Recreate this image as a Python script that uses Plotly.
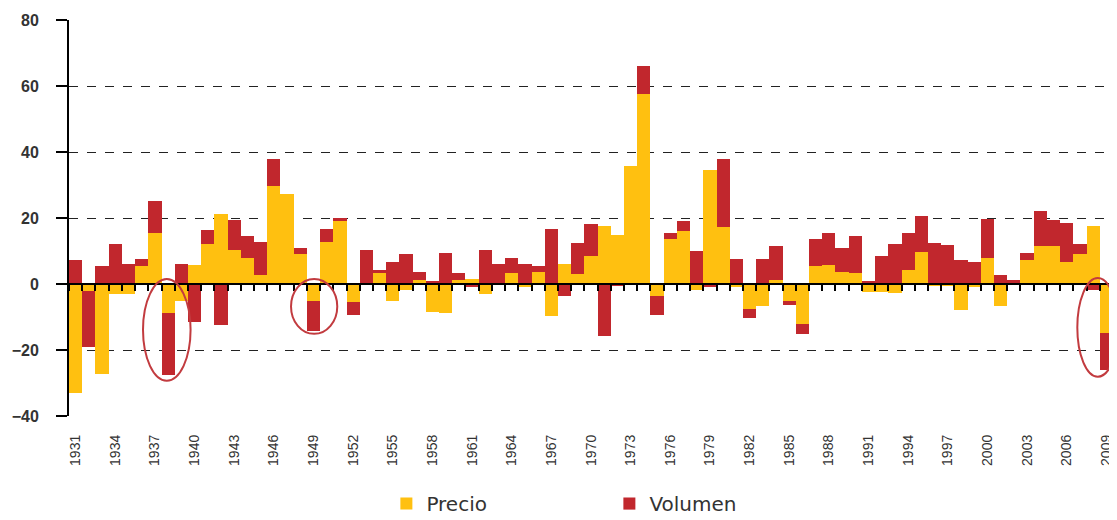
import plotly.graph_objects as go

years = list(range(1931, 2010))
precio = [-33, -2, -27.3, -3.1, -3, 5.4, 15.5, -8.9, -5, 5.9,
          12, 21.3, 10.3, 8, 2.8, 29.6, 27.4, 9, -5, 12.8,
          19, -5.5, 0, 3.2, -5, -1.8, 1.2, -8.5, -8.9, 1.2,
          1.4, -3.1, 0, 3.2, -0.8, 3.7, -9.7, 6.2, 2.9, 8.6,
          17.7, 14.8, 35.7, 57.6, -3.6, 13.5, 16, -1.8, 34.4, 17.4,
          -0.8, -7.5, -6.6, 1.2, -5.2, -12, 5.4, 5.9, 3.7, 3.2,
          -2.3, -2.3, -2.8, 4.2, 9.8, -0.6, -0.7, -7.9, -0.8, 8,
          -6.6, 0, 7.25, 11.6, 11.6, 6.7, 9, 17.7, -14.9]
volumen = [7.2, -17, 5.4, 12, 6.2, 2.3, 9.7, -18.7, 6.2, -11.5,
           4.5, -12.4, 9.2, 6.6, 10, 8.3, 0, 1.8, -9.3, 4,
           1, -3.9, 10.3, 1, 6.7, 9, 2.5, 1, 9.3, 2,
           -0.8, 10.3, 6, 4.6, 6.2, 1.7, 16.8, -3.6, 9.6, 9.5,
           -15.8, -0.6, 0, 8.4, -5.8, 2, 3, 9.9, -1, 20.5,
           7.7, -2.7, 7.7, 10.4, -1.3, -3, 8.3, 9.6, 7.1, 11.4,
           1, 8.6, 12, 11.3, 10.9, 12.5, 11.7, 7.25, 6.8, 11.8,
           2.8, 1.1, 2.25, 10.6, 7.9, 11.8, 3, -1.8, -11.3]
tick_years = list(range(1931, 2010, 3))
highlight = [(1936.1, 1939.7, 1.5, -29.3), (1947.3, 1950.8, 1.5, -15.1), (2006.8, 2009.9, 1.8, -28.1)]

YELLOW = "#FFC010"
RED = "#C1272D"

fig = go.Figure()
fig.add_trace(go.Bar(x=years, y=precio, name="Precio", marker=dict(color=YELLOW, line=dict(width=0)), width=1))
fig.add_trace(go.Bar(x=years, y=volumen, name="Volumen", marker=dict(color=RED, line=dict(width=0)), width=1))
fig.add_trace(go.Scatter(x=years, y=[None] * len(years), xaxis="x2", showlegend=False, hoverinfo="skip"))

for x0, x1, y0, y1 in highlight:
    fig.add_shape(type="circle", xref="x", yref="y", x0=x0, x1=x1, y0=y1, y1=y0,
                  line=dict(color="#C23B3F", width=2))

# page body has an 8px margin, so the figure is sized 8px smaller
fig.update_layout(
    width=1109, height=512,
    margin=dict(l=61, r=4, t=12, b=104, autoexpand=False),
    paper_bgcolor="white", plot_bgcolor="white",
    barmode="relative", bargap=0,
    font=dict(family="Liberation Sans, Arial", color="#333333"),
    xaxis=dict(range=[1930.5, 2009.5], tickmode="array", tickvals=tick_years,
               ticktext=[str(y) for y in tick_years], tickangle=-90, automargin=False,
               showgrid=False, zeroline=False, showline=False, ticks="",
               tickfont=dict(size=14, color="#333333"), ticklabelstandoff=15),
    xaxis2=dict(range=[1930.5, 2009.5], overlaying="x", anchor="free", position=1/3, side="bottom",
                showline=True, linecolor="black", linewidth=2, ticks="outside", ticklen=6,
                tickwidth=2, tickcolor="black", automargin=False,
                tickmode="array", tickvals=[y - 0.5 for y in years] + [2009.5],
                showticklabels=False, showgrid=False, zeroline=False, layer="above traces"),
    yaxis=dict(range=[-40, 80], tickvals=[-40, -20, 0, 20, 40, 60, 80], automargin=False,
               showgrid=True, gridcolor="#222222", griddash="dash", gridwidth=1,
               zeroline=False, showline=True, linecolor="black", linewidth=2,
               ticks="outside", ticklen=11, tickwidth=2, tickcolor="black",
               tickfont=dict(size=16, color="#333333", weight="bold"), ticklabelstandoff=14),
    legend=dict(orientation="h", x=0.304, xanchor="left", y=-0.172, yanchor="top",
                font=dict(size=20, family="DejaVu Sans", color="#333333"),
                entrywidth=178, entrywidthmode="pixels", itemclick=False),
    showlegend=True,
)

fig.write_html("out.html")
